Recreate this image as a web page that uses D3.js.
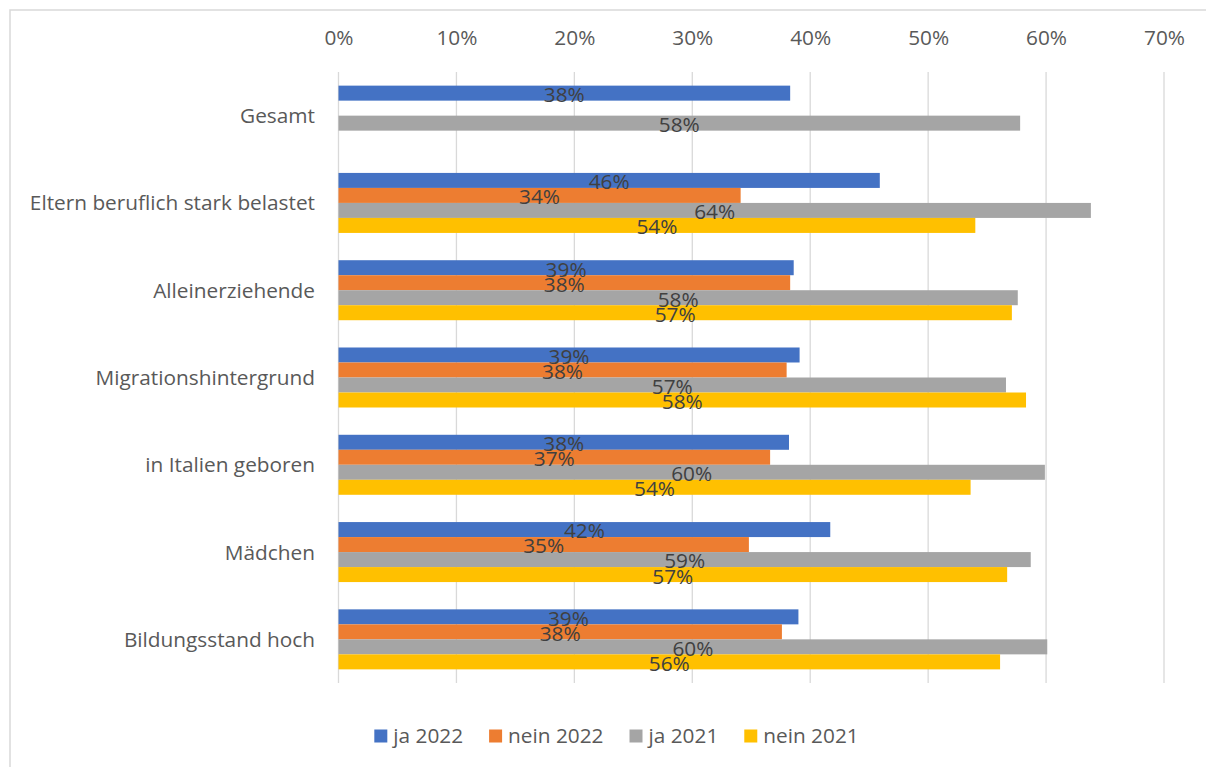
<!DOCTYPE html>
<html>
<head>
<meta charset="utf-8">
<script src="https://cdn.jsdelivr.net/npm/d3@7"></script>
<style>
  html, body { margin: 0; padding: 0; background: #fff; }
  svg { display: block; font-family: "Open Sans", "Noto Sans", sans-serif; }
</style>
</head>
<body>
<svg id="chart" width="1206" height="767"></svg>
<script>
// Categories (top to bottom) and series
const categories = [
  "Gesamt",
  "Eltern beruflich stark belastet",
  "Alleinerziehende",
  "Migrationshintergrund",
  "in Italien geboren",
  "Mädchen",
  "Bildungsstand hoch"
];
const seriesNames = ["ja 2022", "nein 2022", "ja 2021", "nein 2021"];
const seriesColors = ["#4472C4", "#ED7D31", "#A5A5A5", "#FFC000"];

const ja2022   = [0.383, 0.459, 0.386, 0.391, 0.382, 0.417, 0.390];
const nein2022 = [null,  0.341, 0.383, 0.380, 0.366, 0.348, 0.376];
const ja2021   = [0.578, 0.638, 0.576, 0.566, 0.599, 0.587, 0.601];
const nein2021 = [null,  0.540, 0.571, 0.583, 0.536, 0.567, 0.561];

const tickValues = [0, 0.1, 0.2, 0.3, 0.4, 0.5, 0.6, 0.7];

const seriesValues = [ja2022, nein2022, ja2021, nein2021];

const svg = d3.select("#chart");
const W = 1206, H = 767;
const plot = { left: 338.5, right: 1164, top: 72, bottom: 683 };
const fontSize = 20.8;
const pct = d3.format(".0%");

// Outer chart frame (runs off the right and bottom edges)
svg.append("rect")
  .attr("x", 10).attr("y", 10)
  .attr("width", W + 20).attr("height", H + 20)
  .attr("fill", "#fff")
  .attr("stroke", "#d9d9d9")
  .attr("stroke-width", 1.5);

const x = d3.scaleLinear().domain([0, 0.7]).range([plot.left, plot.right]);
const y0 = d3.scaleBand().domain(categories).range([plot.top, plot.bottom])
  .paddingInner(0.3125).paddingOuter(0.15625);
const y1 = d3.scaleBand().domain(seriesNames).range([0, y0.bandwidth()]);

// Vertical gridlines
svg.append("g")
  .selectAll("line")
  .data(tickValues)
  .join("line")
  .attr("x1", d => x(d)).attr("x2", d => x(d))
  .attr("y1", plot.top).attr("y2", plot.bottom)
  .attr("stroke", "#d9d9d9")
  .attr("stroke-width", 1.3);

// Top axis labels
const axis = d3.axisTop(x).tickValues(tickValues).tickFormat(pct).tickSize(0);
const axisG = svg.append("g").attr("transform", `translate(0, 48)`).call(axis);
axisG.select(".domain").remove();
axisG.selectAll("text")
  .attr("font-family", "Open Sans")
  .attr("font-size", fontSize)
  .attr("fill", "#595959")
  .attr("dy", 0);

// Category labels
const catAxis = d3.axisLeft(y0).tickSize(0).tickPadding(0);
const catG = svg.append("g").attr("transform", `translate(315, 0)`).call(catAxis);
catG.select(".domain").remove();
catG.selectAll("text")
  .attr("font-family", "Open Sans")
  .attr("font-size", fontSize)
  .attr("fill", "#595959")
  .attr("dy", "0.36em");

// Bars
const rows = [];
categories.forEach((c, i) => {
  seriesNames.forEach((s, j) => {
    const v = seriesValues[j][i];
    if (v !== null) rows.push({ cat: c, series: s, color: seriesColors[j], value: v });
  });
});

svg.append("g")
  .selectAll("rect")
  .data(rows)
  .join("rect")
  .attr("x", x(0))
  .attr("y", d => y0(d.cat) + y1(d.series))
  .attr("width", d => x(d.value) - x(0))
  .attr("height", y1.bandwidth())
  .attr("fill", d => d.color);

// Value labels centred on each bar
svg.append("g")
  .selectAll("text")
  .data(rows)
  .join("text")
  .attr("x", d => (x(0) + x(d.value)) / 2)
  .attr("y", d => y0(d.cat) + y1(d.series) + y1.bandwidth() / 2 + 1.5 + 0.357 * fontSize)
  .attr("text-anchor", "middle")
  .attr("font-size", fontSize)
  .attr("fill", "#404040")
  .text(d => pct(d.value));

// Legend
const legend = svg.append("g");
const items = legend.selectAll("g").data(seriesNames).join("g");
items.append("rect")
  .attr("width", 13).attr("height", 13)
  .attr("y", -6.5)
  .attr("fill", (d, i) => seriesColors[i]);
items.append("text")
  .attr("x", 19)
  .attr("y", 0.357 * fontSize)
  .attr("font-size", fontSize)
  .attr("fill", "#595959")
  .text(d => d);
const widths = [];
items.each(function () {
  widths.push(19 + d3.select(this).select("text").node().getComputedTextLength());
});
const gap = 26;
const total = d3.sum(widths) + gap * (widths.length - 1);
let cursor = 616.5 - total / 2;
items.attr("transform", (d, i) => {
  const t = `translate(${cursor}, 736)`;
  cursor += widths[i] + gap;
  return t;
});
</script>
</body>
</html>
